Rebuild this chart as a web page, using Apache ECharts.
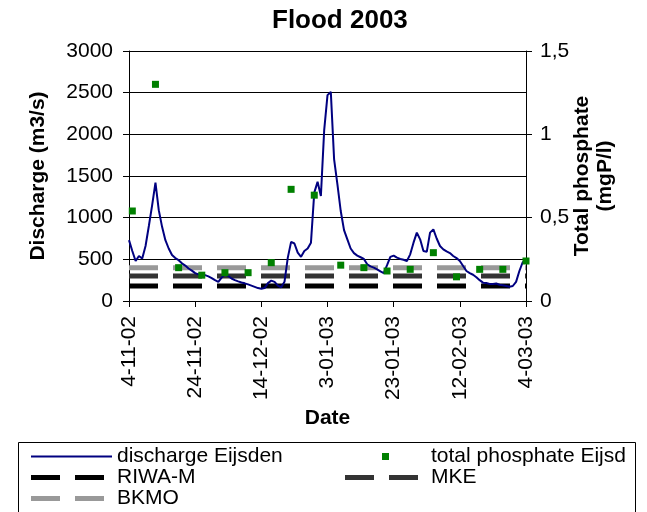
<!DOCTYPE html>
<html>
<head>
<meta charset="utf-8">
<script src="https://cdn.jsdelivr.net/npm/echarts@6/dist/echarts.min.js"></script>
<style>
html,body{margin:0;padding:0;background:#fff;}
#chart{width:647px;height:512px;}
</style>
</head>
<body>
<div id="chart"></div>
<script>
// X tick labels (dates, every 20 days from 4-11-02)
const tickLabels = ['4-11-02','24-11-02','14-12-02','3-01-03','23-01-03','12-02-03','4-03-03'];
// Daily discharge at Eijsden (m3/s), day 0 = 4-11-02 ... day 120 = 4-03-03
const dischargeEijsden = [
  730, 600, 480, 540, 510, 660, 900, 1150, 1420, 1090,
  890, 730, 630, 552, 515, 490, 452, 425, 390, 365,
  335, 320, 315, 310, 295, 275, 250, 230, 280, 320,
  300, 270, 250, 235, 222, 212, 200, 185, 170, 155,
  148, 155, 215, 245, 230, 185, 165, 230, 520, 710,
  690, 580, 530, 600, 630, 700, 1300, 1430, 1260, 2050,
  2470, 2510, 1700, 1400, 1080, 850, 740, 630, 575, 545,
  525, 505, 440, 415, 400, 380, 355, 335, 430, 530,
  545, 520, 505, 495, 480, 560, 700, 820, 740, 600,
  590, 820, 860, 750, 660, 620, 595, 575, 540, 515,
  480, 420, 360, 335, 315, 285, 250, 220, 215, 205,
  205, 210, 195, 188, 180, 170, 180, 230, 360, 465,
  490
];
// Total phosphate samples (mgP/l) and their day offsets
const phosphateDays = [1, 8, 15, 22, 29, 36, 43, 49, 56, 64, 71, 78, 85, 92, 99, 106, 113, 120];
const phosphateEijsden = [0.54, 1.30, 0.20, 0.155, 0.17, 0.17, 0.23, 0.67, 0.635, 0.215, 0.20, 0.18, 0.19, 0.29, 0.145, 0.19, 0.19, 0.24];
// Standards (mgP/l)
const riwaM = 0.09;
const mke = 0.15;
const bkmo = 0.2;
const dayRange = [0, 120];

const FONT = 'Liberation Sans, Arial, sans-serif';
const chart = echarts.init(document.getElementById('chart'), null, {renderer: 'canvas'});

function hline(v) { return dayRange.map(d => [d, v]); }

// legend icons (81 x 7 box; extra moveTo points fix the bounding box)
const ICON_DASH = 'path://M0,0 M81,7 M0,1h29v5h-29z M44,1h29v5h-29z';
const ICON_LINE = 'path://M0,0 M81,7 M0,2.6h81v1.8h-81z';
const ICON_SQUARE = 'path://M0,0h7v7h-7z';

const option = {
  animation: false,
  backgroundColor: '#fff',
  textStyle: {fontFamily: FONT, color: '#000'},
  title: {
    text: 'Flood 2003',
    left: 272, top: 8, padding: 0,
    textStyle: {fontFamily: FONT, fontSize: 26, fontWeight: 'bold', color: '#000'}
  },
  grid: {left: 129, right: 121, top: 51, bottom: 211},
  xAxis: {
    type: 'value', min: 0, max: 120, interval: 20,
    name: 'Date', nameLocation: 'middle', nameGap: 107,
    nameTextStyle: {fontFamily: FONT, fontSize: 21, fontWeight: 'bold', color: '#000'},
    axisLine: {show: true, onZero: false, lineStyle: {color: '#000', width: 1}},
    axisTick: {show: true, inside: false, length: 6, lineStyle: {color: '#000'}},
    axisLabel: {
      rotate: 90, margin: 15, fontSize: 21, fontFamily: FONT, color: '#000',
      formatter: v => tickLabels[Math.round(v / 20)]
    },
    splitLine: {show: false}
  },
  yAxis: [{
    type: 'value', min: 0, max: 3000, interval: 500, position: 'left',
    name: 'Discharge (m3/s)', nameLocation: 'middle', nameGap: 80, nameRotate: 90,
    nameTextStyle: {fontFamily: FONT, fontSize: 21, fontWeight: 'bold', color: '#000'},
    axisLine: {show: true, lineStyle: {color: '#000', width: 1}},
    axisTick: {show: true, inside: false, length: 6, lineStyle: {color: '#000'}},
    axisLabel: {margin: 16, fontSize: 21, fontFamily: FONT, color: '#000',
      formatter: v => String(v)},
    splitLine: {show: true, lineStyle: {color: '#000', width: 1}}
  }, {
    type: 'value', min: 0, max: 1.5, interval: 0.5, position: 'right',
    name: 'Total phosphate\n(mgP/l)', nameLocation: 'middle', nameGap: 45, nameRotate: 90,
    nameMoveOverlap: false,
    nameTextStyle: {fontFamily: FONT, fontSize: 21, fontWeight: 'bold', color: '#000', lineHeight: 23},
    axisLine: {show: true, lineStyle: {color: '#000', width: 1}},
    axisTick: {show: true, inside: false, length: 6, lineStyle: {color: '#000'}},
    axisLabel: {margin: 14, fontSize: 21, fontFamily: FONT, color: '#000',
      formatter: v => String(v).replace('.', ',')},
    splitLine: {show: false}
  }],
  legend: [{
    orient: 'vertical', left: 31, top: 446, padding: 0,
    itemWidth: 81, itemHeight: 7, itemGap: 0, symbolKeepAspect: true,
    textStyle: {fontFamily: FONT, fontSize: 21, color: '#000', lineHeight: 20},
    data: [
      {name: 'discharge Eijsden', icon: ICON_LINE, itemStyle: {color: '#000080', borderWidth: 0}},
      {name: 'RIWA-M', icon: ICON_DASH, itemStyle: {color: '#000000', borderWidth: 0}},
      {name: 'BKMO', icon: ICON_DASH, itemStyle: {color: '#999999', borderWidth: 0}}
    ],
    selectedMode: false
  }, {
    orient: 'vertical', left: 345, top: 446, padding: 0,
    itemWidth: 81, itemHeight: 7, itemGap: 0, symbolKeepAspect: true,
    textStyle: {fontFamily: FONT, fontSize: 21, color: '#000', lineHeight: 20},
    data: [
      {name: 'total phosphate Eijsd', icon: ICON_SQUARE, itemStyle: {color: '#008000', borderWidth: 0}},
      {name: 'MKE', icon: ICON_DASH, itemStyle: {color: '#333333', borderWidth: 0}}
    ],
    selectedMode: false
  }],
  graphic: [{
    type: 'rect', left: 16, top: 440, z: 100,
    shape: {width: 617, height: 70},
    style: {fill: 'none', stroke: '#000', lineWidth: 1}
  }],
  series: [{
    name: 'RIWA-M', type: 'line', yAxisIndex: 1, symbol: 'none', z: 1,
    data: hline(riwaM),
    lineStyle: {color: '#000000', width: 5, type: [29, 15]},
    itemStyle: {color: '#000000'}
  }, {
    name: 'MKE', type: 'line', yAxisIndex: 1, symbol: 'none', z: 1,
    data: hline(mke),
    lineStyle: {color: '#333333', width: 5, type: [29, 15]},
    itemStyle: {color: '#333333'}
  }, {
    name: 'BKMO', type: 'line', yAxisIndex: 1, symbol: 'none', z: 1,
    data: hline(bkmo),
    lineStyle: {color: '#999999', width: 5, type: [29, 15]},
    itemStyle: {color: '#999999'}
  }, {
    name: 'discharge Eijsden', type: 'line', yAxisIndex: 0, symbol: 'none', z: 2,
    data: dischargeEijsden.map((v, i) => [i, v]),
    lineStyle: {color: '#000080', width: 2},
    itemStyle: {color: '#000080'}
  }, {
    name: 'total phosphate Eijsd', type: 'scatter', yAxisIndex: 1, z: 3,
    symbol: 'rect', symbolSize: 7,
    data: phosphateDays.map((d, i) => [d, phosphateEijsden[i]]),
    itemStyle: {color: '#008000', opacity: 1}
  }]
};
chart.setOption(option);
</script>
</body>
</html>
